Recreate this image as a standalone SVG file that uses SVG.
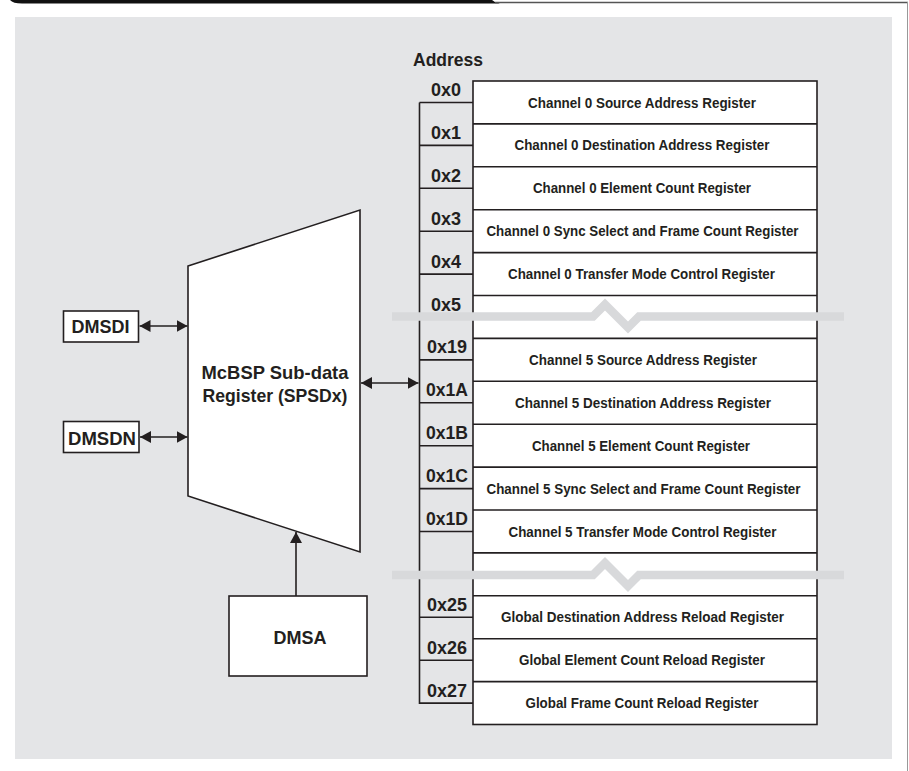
<svg xmlns="http://www.w3.org/2000/svg" width="909" height="771" viewBox="0 0 909 771">
<defs>
<style>
.t{font-family:"Liberation Sans",Arial,sans-serif;font-weight:bold;fill:#231f20}
.reg{font-size:15px;text-anchor:middle}
.adr{font-size:19px;text-anchor:middle}
.box{fill:#fff;stroke:#231f20;stroke-width:1.6}
.ln{stroke:#231f20;stroke-width:1.6;fill:none}
.band{fill:none;stroke:#d8d9db;stroke-width:8.5;stroke-linejoin:miter}
.con{stroke:#231f20;stroke-width:1.6;fill:none}
</style>
<marker id="ah" viewBox="0 0 11 12" refX="11" refY="6" markerWidth="11" markerHeight="12" markerUnits="userSpaceOnUse" orient="auto-start-reverse">
<path d="M0,0 L11,6 L0,12 Z" fill="#231f20"/>
</marker>
</defs>
<rect x="0" y="0" width="909" height="771" fill="#fff"/>
<path d="M10,0 H492 Q495,3 500,3.5 H22 Q13,3.5 10,0 Z" fill="#111"/>
<line x1="495" y1="2.5" x2="908" y2="2.5" stroke="#555" stroke-width="1.4"/>
<line x1="907.5" y1="2" x2="907.5" y2="771" stroke="#999" stroke-width="1"/>
<rect x="15" y="17" width="877" height="742" fill="#e4e5e7"/>

<g id="address-header"><text class="t" x="448" y="66" font-size="18" text-anchor="middle" textLength="70" lengthAdjust="spacingAndGlyphs">Address</text></g>

<g id="register-map">
<rect class="box" x="473" y="81" width="344" height="643.5"/>
<path class="ln" d="M473,123.9H817M473,166.8H817M473,209.7H817M473,252.6H817M473,295.5H817M473,338.4H817M473,381.3H817M473,424.2H817M473,467.1H817M473,510H817M473,552.9H817M473,595.8H817M473,638.7H817M473,681.6H817"/>
</g>

<g id="address-column">
<path class="ln" d="M419.5,102.5V703.1H473M419.5,102.5H473M419.5,145.4H473M419.5,188.3H473M419.5,231.2H473M419.5,274.1H473M419.5,359.9H473M419.5,402.8H473M419.5,445.7H473M419.5,488.6H473M419.5,531.5H473M419.5,617.3H473M419.5,660.2H473"/>
<text class="t adr" x="446" y="96" textLength="30" lengthAdjust="spacingAndGlyphs">0x0</text>
<text class="t adr" x="446" y="138.9" textLength="30" lengthAdjust="spacingAndGlyphs">0x1</text>
<text class="t adr" x="446" y="181.8" textLength="30" lengthAdjust="spacingAndGlyphs">0x2</text>
<text class="t adr" x="446" y="224.7" textLength="30" lengthAdjust="spacingAndGlyphs">0x3</text>
<text class="t adr" x="446" y="267.6" textLength="30" lengthAdjust="spacingAndGlyphs">0x4</text>
<text class="t adr" x="446" y="310.5" textLength="30" lengthAdjust="spacingAndGlyphs">0x5</text>
<text class="t adr" x="447" y="353.4" textLength="40" lengthAdjust="spacingAndGlyphs">0x19</text>
<text class="t adr" x="447" y="396.3" textLength="42" lengthAdjust="spacingAndGlyphs">0x1A</text>
<text class="t adr" x="447" y="439.2" textLength="42" lengthAdjust="spacingAndGlyphs">0x1B</text>
<text class="t adr" x="447" y="482.1" textLength="42" lengthAdjust="spacingAndGlyphs">0x1C</text>
<text class="t adr" x="447" y="525" textLength="42" lengthAdjust="spacingAndGlyphs">0x1D</text>
<text class="t adr" x="447" y="610.8" textLength="40" lengthAdjust="spacingAndGlyphs">0x25</text>
<text class="t adr" x="447" y="653.7" textLength="40" lengthAdjust="spacingAndGlyphs">0x26</text>
<text class="t adr" x="447" y="696.6" textLength="40" lengthAdjust="spacingAndGlyphs">0x27</text>
</g>

<g id="reg-ch0-src"><text class="t reg" x="642" y="107.5" textLength="228" lengthAdjust="spacingAndGlyphs">Channel 0 Source Address Register</text></g>
<g id="reg-ch0-dst"><text class="t reg" x="642" y="150.4" textLength="255" lengthAdjust="spacingAndGlyphs">Channel 0 Destination Address Register</text></g>
<g id="reg-ch0-elem"><text class="t reg" x="642" y="193.3" textLength="218" lengthAdjust="spacingAndGlyphs">Channel 0 Element Count Register</text></g>
<g id="reg-ch0-sync"><text class="t reg" x="642.5" y="236.2" textLength="312" lengthAdjust="spacingAndGlyphs">Channel 0 Sync Select and Frame Count Register</text></g>
<g id="reg-ch0-mode"><text class="t reg" x="641.5" y="279.1" textLength="267" lengthAdjust="spacingAndGlyphs">Channel 0 Transfer Mode Control Register</text></g>
<g id="reg-ch5-src"><text class="t reg" x="643" y="364.9" textLength="228" lengthAdjust="spacingAndGlyphs">Channel 5 Source Address Register</text></g>
<g id="reg-ch5-dst"><text class="t reg" x="643" y="407.8" textLength="256" lengthAdjust="spacingAndGlyphs">Channel 5 Destination Address Register</text></g>
<g id="reg-ch5-elem"><text class="t reg" x="641" y="450.7" textLength="218" lengthAdjust="spacingAndGlyphs">Channel 5 Element Count Register</text></g>
<g id="reg-ch5-sync"><text class="t reg" x="643.5" y="493.6" textLength="314" lengthAdjust="spacingAndGlyphs">Channel 5 Sync Select and Frame Count Register</text></g>
<g id="reg-ch5-mode"><text class="t reg" x="642.5" y="536.5" textLength="268" lengthAdjust="spacingAndGlyphs">Channel 5 Transfer Mode Control Register</text></g>
<g id="reg-glob-dst"><text class="t reg" x="642.5" y="622.3" textLength="283" lengthAdjust="spacingAndGlyphs">Global Destination Address Reload Register</text></g>
<g id="reg-glob-elem"><text class="t reg" x="642" y="665.2" textLength="246" lengthAdjust="spacingAndGlyphs">Global Element Count Reload Register</text></g>
<g id="reg-glob-frame"><text class="t reg" x="642" y="708.1" textLength="233" lengthAdjust="spacingAndGlyphs">Global Frame Count Reload Register</text></g>

<g id="breaks">
<path class="band" d="M392,316.5H593L605,304.5L628,327.5L639,316.5H844"/>
<path class="band" d="M392,575H593L605,563L628,586L639,575H844"/>
</g>

<g id="mcbsp">
<polygon class="box" points="188,266 360,210 360,552 188,496"/>
<text class="t" x="275" y="378.5" font-size="19" text-anchor="middle" textLength="147" lengthAdjust="spacingAndGlyphs">McBSP Sub-data</text>
<text class="t" x="275" y="401.5" font-size="19" text-anchor="middle" textLength="145" lengthAdjust="spacingAndGlyphs">Register (SPSDx)</text>
</g>

<g id="dmsdi">
<rect class="box" x="63.5" y="311" width="75" height="31"/>
<text class="t" x="100.5" y="333" font-size="18.5" text-anchor="middle" textLength="58" lengthAdjust="spacingAndGlyphs">DMSDI</text>
</g>
<g id="dmsdn">
<rect class="box" x="63.5" y="421.5" width="75.5" height="31"/>
<text class="t" x="102" y="444.5" font-size="18.5" text-anchor="middle" textLength="68" lengthAdjust="spacingAndGlyphs">DMSDN</text>
</g>
<g id="dmsa">
<rect class="box" x="229" y="596" width="138" height="80"/>
<text class="t" x="300" y="644" font-size="18.5" text-anchor="middle" textLength="53" lengthAdjust="spacingAndGlyphs">DMSA</text>
</g>

<g id="connectors">
<line class="con" x1="139.5" y1="326" x2="187.5" y2="326" marker-start="url(#ah)" marker-end="url(#ah)"/>
<line class="con" x1="140" y1="437" x2="187.5" y2="437" marker-start="url(#ah)" marker-end="url(#ah)"/>
<line class="con" x1="361" y1="383" x2="418.5" y2="383" marker-start="url(#ah)" marker-end="url(#ah)"/>
<line class="con" x1="296" y1="596" x2="296" y2="532" marker-end="url(#ah)"/>
</g>
</svg>
